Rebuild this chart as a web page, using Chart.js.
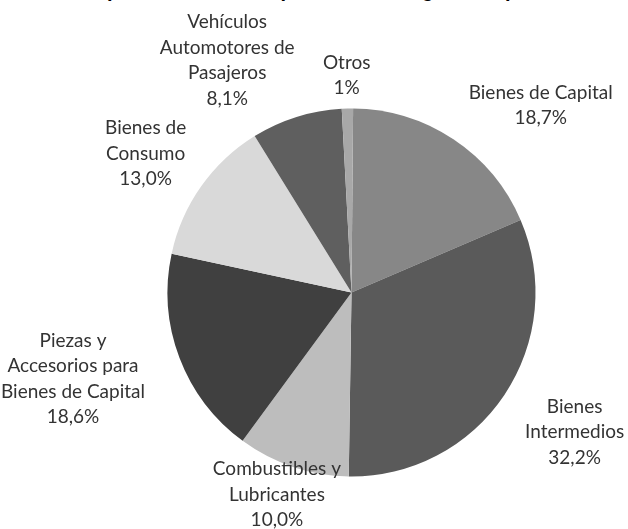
<!DOCTYPE html>
<html>
<head>
<meta charset="utf-8">
<script src="https://cdn.jsdelivr.net/npm/chart.js@4/dist/chart.umd.min.js"></script>
<style>
  html, body { margin: 0; padding: 0; background: #fff; overflow: hidden; width: 628px; height: 529px; }
  #wrap { position: relative; width: 628px; height: 529px; }
  #title { position: absolute; top: -21px; white-space: nowrap; font: bold 20px "Liberation Sans", Arial, sans-serif; line-height: 22px; color: #000; }
  canvas { position: absolute; left: 0; top: 0; }
</style>
</head>
<body>
<div id="wrap">
  <div id="title"><span id="tpre">Gráfico: </span>composición de las importaciones según uso por destino</div>
  <canvas id="c" width="628" height="529"></canvas>
</div>
<script>
// ---- data ----
const categories = [
  ["Bienes de Capital"],
  ["Bienes", "Intermedios"],
  ["Combustibles y", "Lubricantes"],
  ["Piezas y", "Accesorios para", "Bienes de Capital"],
  ["Bienes de", "Consumo"],
  ["Vehículos", "Automotores de", "Pasajeros"],
  ["Otros"]
];
const shares = [18.7, 32.2, 10.0, 18.6, 13.0, 8.1, 1];
const shareLabels = ["18,7%", "32,2%", "10,0%", "18,6%", "13,0%", "8,1%", "1%"];

// ---- title placement ----
(function(){
  const t = document.getElementById('title');
  const pre = document.getElementById('tpre');
  t.style.left = (66 - pre.getBoundingClientRect().width) + 'px';
})();

// label placement relative to each slice: [radius factor, angular nudge in degrees]
const labelPlacement = [[1.446, 11.7], [1.43, -1.8], [1.17, 1.7], [1.585, 3.5], [1.35, -1.2], [1.43, -10.8], [1.18, 0]];

const sliceLabels = {
  id: 'sliceLabels',
  afterDatasetsDraw(chart) {
    const ctx = chart.ctx;
    const meta = chart.getDatasetMeta(0);
    ctx.save();
    ctx.font = '19px Lato, "Open Sans", sans-serif';
    ctx.fillStyle = '#333333';
    ctx.textAlign = 'center';
    ctx.textBaseline = 'middle';
    const lh = 25.5;
    meta.data.forEach((arc, i) => {
      const p = arc.getProps(['x', 'y', 'startAngle', 'endAngle', 'outerRadius'], true);
      const [f, nudge] = labelPlacement[i];
      const a = (p.startAngle + p.endAngle) / 2 + nudge * Math.PI / 180;
      const cx = p.x + Math.cos(a) * p.outerRadius * f;
      const cy = p.y + Math.sin(a) * p.outerRadius * f;
      const lines = categories[i].concat([shareLabels[i]]);
      const y0 = cy - (lines.length - 1) * lh / 2;
      lines.forEach((ln, k) => ctx.fillText(ln, cx, y0 + k * lh));
    });
    ctx.restore();
  }
};

new Chart(document.getElementById('c'), {
  type: 'pie',
  data: {
    labels: categories.map(c => c.join(' ')),
    datasets: [{
      data: shares,
      backgroundColor: ['#878787', '#5a5a5a', '#bdbdbd', '#404040', '#d9d9d9', '#5f5f5f', '#a8a8a8'],
      borderWidth: 0
    }]
  },
  options: {
    responsive: false,
    animation: false,
    rotation: 0.5,
    layout: { padding: { left: 167.5, right: 92.5, top: 108.5, bottom: 52.5 } },
    plugins: {
      legend: { display: false },
      tooltip: { enabled: false },
      title: { display: false }
    }
  },
  plugins: [sliceLabels]
});
</script>
</body>
</html>
